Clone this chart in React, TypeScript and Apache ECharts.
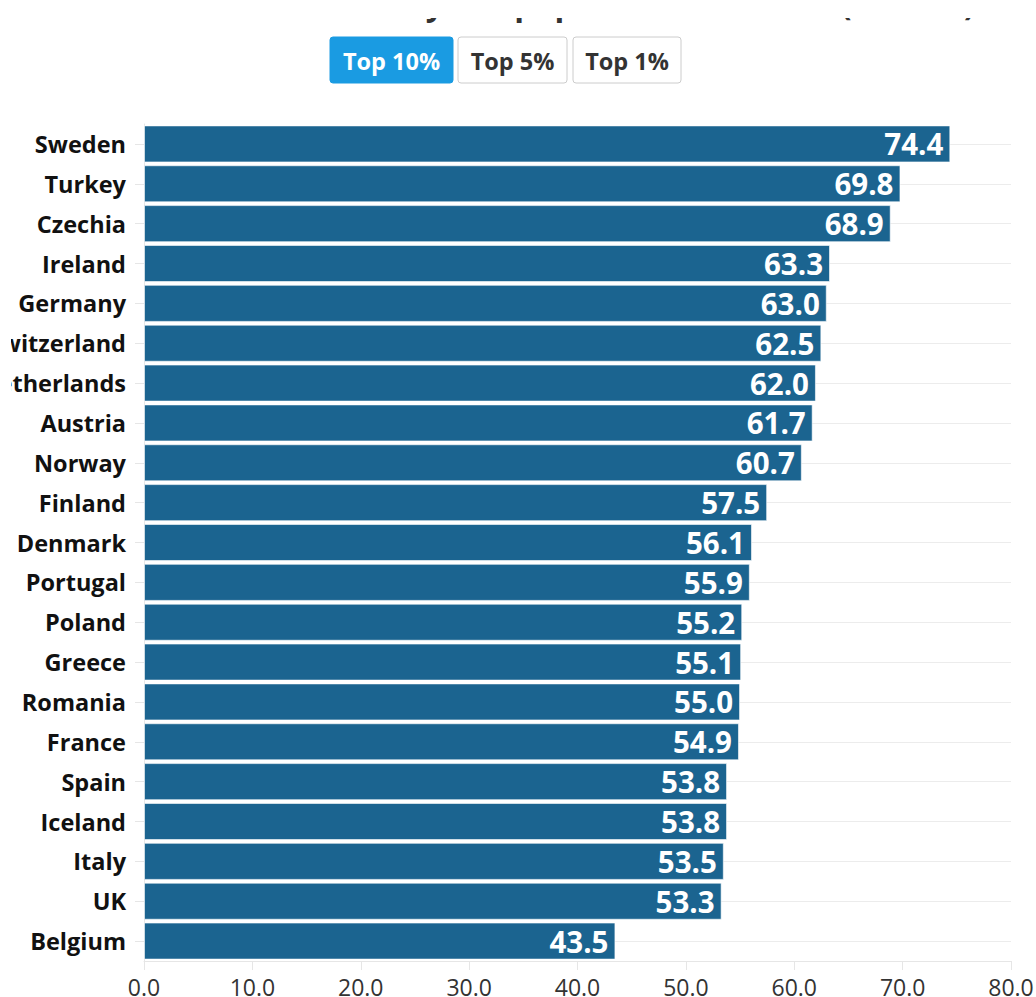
import React, { useEffect, useRef } from "react";
import * as echarts from "echarts";

const countries = [
  "Sweden", "Turkey", "Czechia", "Ireland", "Germany", "Switzerland", "Netherlands",
  "Austria", "Norway", "Finland", "Denmark", "Portugal", "Poland", "Greece",
  "Romania", "France", "Spain", "Iceland", "Italy", "UK", "Belgium",
];
const values = [
  74.4, 69.8, 68.9, 63.3, 63.0, 62.5, 62.0, 61.7, 60.7, 57.5, 56.1,
  55.9, 55.2, 55.1, 55.0, 54.9, 53.8, 53.8, 53.5, 53.3, 43.5,
];
const buttonLabels = ["Top 10%", "Top 5%", "Top 1%"];
const titleText = "Share of income held by the population's richest (in 2019)";

const FONT = "'Open Sans', 'Noto Sans', sans-serif";
const OFFSET = 11;

export default function App() {
  const ref = useRef<HTMLDivElement>(null);
  useEffect(() => {
    if (!ref.current) return;
    const chart = echarts.init(ref.current, undefined, { renderer: "svg" });
    const btnX = [330, 458, 573];
    const btnW = [123, 109, 108];
    const graphics: any[] = [];
    graphics.push({
      type: "text",
      x: 518 - OFFSET,
      y: -14,
      z: 1,
      style: {
        text: titleText,
        font: `bold 32px ${FONT}`,
        fill: "#333",
        align: "center",
        verticalAlign: "top",
      },
    });
    graphics.push({
      type: "rect",
      shape: { x: 0, y: 0, width: 1036, height: 18 },
      z: 2,
      style: { fill: "#ffffff" },
    });
    buttonLabels.forEach((lab, i) => {
      const active = i === 0;
      graphics.push({
        type: "rect",
        shape: { x: btnX[i] - OFFSET, y: 37, width: btnW[i], height: 46, r: 3 },
        z: 3,
        style: {
          fill: active ? "#1a9be2" : "#ffffff",
          stroke: active ? "#1a9be2" : "#cccccc",
          lineWidth: 1,
        },
      });
      graphics.push({
        type: "text",
        x: btnX[i] - OFFSET + btnW[i] / 2,
        y: 61,
        z: 4,
        style: {
          text: lab,
          font: `bold 23.5px ${FONT}`,
          fill: active ? "#ffffff" : "#333333",
          align: "center",
          verticalAlign: "middle",
        },
      });
    });

    chart.setOption({
      animation: false,
      backgroundColor: "#ffffff",
      graphic: graphics,
      grid: {
        left: 144 - OFFSET,
        right: 25,
        top: 124,
        bottom: 36,
        containLabel: false,
        outerBoundsMode: "none",
      },
      xAxis: {
        type: "value",
        min: 0,
        max: 80,
        interval: 10,
        axisLine: { show: true, lineStyle: { color: "#e6e6e6", width: 1 } },
        axisTick: { show: true, length: 9, lineStyle: { color: "#e6e6e6" } },
        splitLine: { show: false },
        axisLabel: {
          color: "#333333",
          fontSize: 23,
          lineHeight: 18,
          fontFamily: FONT,
          margin: 17,
          formatter: (v: number) => v.toFixed(1),
        },
      },
      yAxis: {
        type: "category",
        data: countries,
        inverse: true,
        axisLine: { show: true, lineStyle: { color: "#e6e6e6" } },
        axisTick: { show: true, alignWithLabel: true, length: 9, lineStyle: { color: "#e6e6e6" } },
        splitLine: { show: true, alignWithLabel: true, lineStyle: { color: "#ececec", width: 1 } },
        axisLabel: {
          color: "#111111",
          fontSize: 23.5,
          fontWeight: "bold",
          fontFamily: FONT,
          margin: 18,
        },
      },
      series: [
        {
          type: "bar",
          data: values,
          barCategoryGap: "7%",
          itemStyle: {
            color: "#1b6490",
            borderColor: "rgba(255,255,255,0.6)",
            borderWidth: 1,
          },
          label: {
            show: true,
            position: "insideRight",
            distance: 7,
            color: "#ffffff",
            fontSize: 29.5,
            fontWeight: "bold",
            fontFamily: FONT,
            formatter: (p: any) => Number(p.value).toFixed(1),
          },
        },
      ],
    });
    return () => chart.dispose();
  }, []);
  return (
    <div
      ref={ref}
      style={{ position: "absolute", left: OFFSET, top: 0, width: 1036 - OFFSET, height: 997 }}
    />
  );
}
